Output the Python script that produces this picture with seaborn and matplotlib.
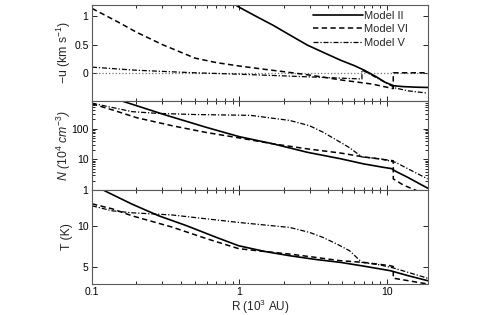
import numpy as np
import matplotlib
matplotlib.use("Agg")
import matplotlib.pyplot as plt
import matplotlib.ticker as mticker
import seaborn as sns

sns.set_style("ticks")
plt.rcParams["font.family"] = ["Liberation Sans", "DejaVu Sans"]
plt.rcParams["mathtext.fontset"] = "custom"
plt.rcParams["mathtext.rm"] = "Liberation Sans"
plt.rcParams["mathtext.it"] = "Liberation Sans:italic"
plt.rcParams["font.size"] = 7.5

### Data (R in 10^3 AU)
# Model II (solid)
r_m2_u = [0.8, 1.0, 1.3, 1.7, 2.2, 2.9, 3.8, 4.9, 6.0, 7.0, 8.5, 9.8, 11.2, 13, 16, 19]
u_m2 = [1.32, 1.16, 1.0, 0.84, 0.67, 0.49, 0.35, 0.22, 0.13, 0.05, -0.07, -0.17, -0.23, -0.245, -0.255, -0.26]
r_m2_n = [0.1, 0.16, 0.32, 0.6, 1.0, 1.7, 2.9, 4.9, 7.0, 9.5, 10.8, 11.5, 14, 19]
n_m2 = [1600, 800, 274, 110, 55, 32, 17, 10.4, 7.1, 5.5, 5.0, 4.1, 2.55, 1.15]
r_m2_t = [0.1, 0.127, 0.187, 0.284, 0.44, 0.7, 0.99, 1.5, 2.2, 3.3, 4.86, 7.0, 10.6, 14, 19]
t_m2 = [15.0, 14.05, 12.6, 11.2, 10.0, 8.6, 7.6, 6.9, 6.4, 5.95, 5.6, 5.15, 4.6, 4.0, 3.4]

# Model VI (dashed), shock at R ~ 11
r_m6_u = [0.1, 0.15, 0.2, 0.3, 0.5, 0.7, 1.0, 1.5, 2.0, 3.0, 5.0, 8.0, 11.1, 11.1, 19]
u_m6 = [1.14, 0.9, 0.72, 0.5, 0.26, 0.18, 0.12, 0.06, 0.02, -0.04, -0.13, -0.2, -0.28, 0.0, 0.0]
r_m6_n = [0.1, 0.14, 0.2, 0.35, 0.6, 1.0, 1.7, 2.9, 4.9, 7.0, 11.1, 11.1, 13, 16]
n_m6 = [650, 400, 230, 125, 75, 50, 32, 22, 16, 12, 9, 2.3, 1.45, 0.95]
r_m6_t = [0.1, 0.137, 0.187, 0.35, 0.6, 0.99, 1.5, 2.2, 3.3, 4.86, 7.0, 10.6, 11.1, 11.1, 14, 19]
t_m6 = [12.64, 12.04, 11.2, 9.84, 8.45, 7.25, 6.9, 6.6, 6.2, 5.8, 5.6, 5.2, 5.1, 3.7, 3.4, 3.0]

# Model V (dash-dot), shock at R ~ 6.8
r_m5_u = [0.1, 0.2, 0.5, 1.0, 2.0, 4.0, 6.8, 6.8, 9.0, 11.5, 14, 19]
u_m5 = [0.1, 0.045, 0.0, -0.025, -0.055, -0.085, -0.11, 0.05, -0.12, -0.27, -0.32, -0.36]
r_m5_n = [0.1, 0.187, 0.28, 0.5, 1.19, 2.2, 3.0, 3.7, 4.86, 5.6, 6.8, 9.0, 11.5, 14, 19]
n_m5 = [680, 360, 316, 290, 273, 186, 125, 77, 36, 24, 12, 10.5, 8, 4.9, 2.3]
r_m5_t = [0.1, 0.137, 0.187, 0.35, 0.99, 2.2, 3.0, 3.7, 4.6, 5.6, 6.8, 9.0, 11.0, 14, 19]
t_m5 = [12.4, 11.8, 11.56, 11.3, 10.4, 9.8, 9.2, 8.6, 7.8, 7.0, 5.6, 5.3, 4.95, 4.4, 3.7]

models = [
    ("Model II", "-", 1.2, (r_m2_u, u_m2), (r_m2_n, n_m2), (r_m2_t, t_m2)),
    ("Model VI", (0, (3.5, 2.2)), 1.1, (r_m6_u, u_m6), (r_m6_n, n_m6), (r_m6_t, t_m6)),
    ("Model V", (0, (4, 1.5, 1, 1.5)), 0.9, (r_m5_u, u_m5), (r_m5_n, n_m5), (r_m5_t, t_m5)),
]

fig, axes = plt.subplots(3, 1, figsize=(4.91, 3.15), dpi=100, sharex=True,
                         gridspec_kw=dict(hspace=0, height_ratios=[96, 89, 94]))
fig.subplots_adjust(left=0.1874, right=0.871, top=0.984, bottom=0.0984)

axes[0].axhline(0, color="0.45", ls=":", lw=0.9, zorder=1)

for label, ls, lw, du, dn, dt in models:
    for ax, (x, y) in zip(axes, [du, dn, dt]):
        sns.lineplot(x=x, y=y, ax=ax, color="k", linestyle=ls, linewidth=lw,
                     estimator=None, sort=False,
                     label=label if ax is axes[0] else None, legend=False)

for ax in axes:
    ax.set_xscale("log")
    ax.set_xlim(0.1, 19)
    ax.tick_params(which="both", direction="in", top=True, right=True,
                   colors="k", labelsize=7.5, width=0.6, pad=2.5)
    ax.tick_params(which="major", length=3.5)
    ax.tick_params(which="minor", length=2)
    for s in ax.spines.values():
        s.set_color("0.35")
        s.set_linewidth(0.8)
    ax.set_ylabel("")

axes[0].set_ylim(-0.5, 1.2)
axes[0].set_yticks([0, 0.5, 1])
axes[0].set_yticklabels(["0", "0.5", "1"])
axes[0].set_ylabel("\u2212u (km s$^{-1}$)", fontsize=8.8)

axes[1].set_yscale("log")
axes[1].set_ylim(1, 800)
axes[1].set_yticks([1, 10, 100])
axes[1].set_yticklabels(["1", "10", "100"])
axes[1].set_ylabel("$N$ ($10^4$ $cm^{-3}$)", style="italic", fontsize=8.8)

axes[2].set_ylim(3, 14.3)
axes[2].set_yticks([5, 10])
axes[2].set_yticklabels(["5", "10"])
axes[2].set_ylabel("T (K)", fontsize=8.8)
axes[2].set_xticks([0.1, 1, 10])
axes[2].xaxis.set_major_formatter(mticker.FixedFormatter(["0.1", "1", "10"]))
axes[2].set_xlabel("R (10$^3$ AU)", fontsize=8.5, labelpad=0.5)

for ax in axes:
    ax.yaxis.set_label_coords(-0.058, 0.5)

handles, labels = axes[0].get_legend_handles_labels()
axes[0].legend(handles, labels, loc="upper right", bbox_to_anchor=(0.965, 1.02),
               frameon=False, handlelength=4.5, handletextpad=0.15,
               labelspacing=0.3, fontsize=8, borderaxespad=0.3)

fig.savefig("out.png", dpi=100)
